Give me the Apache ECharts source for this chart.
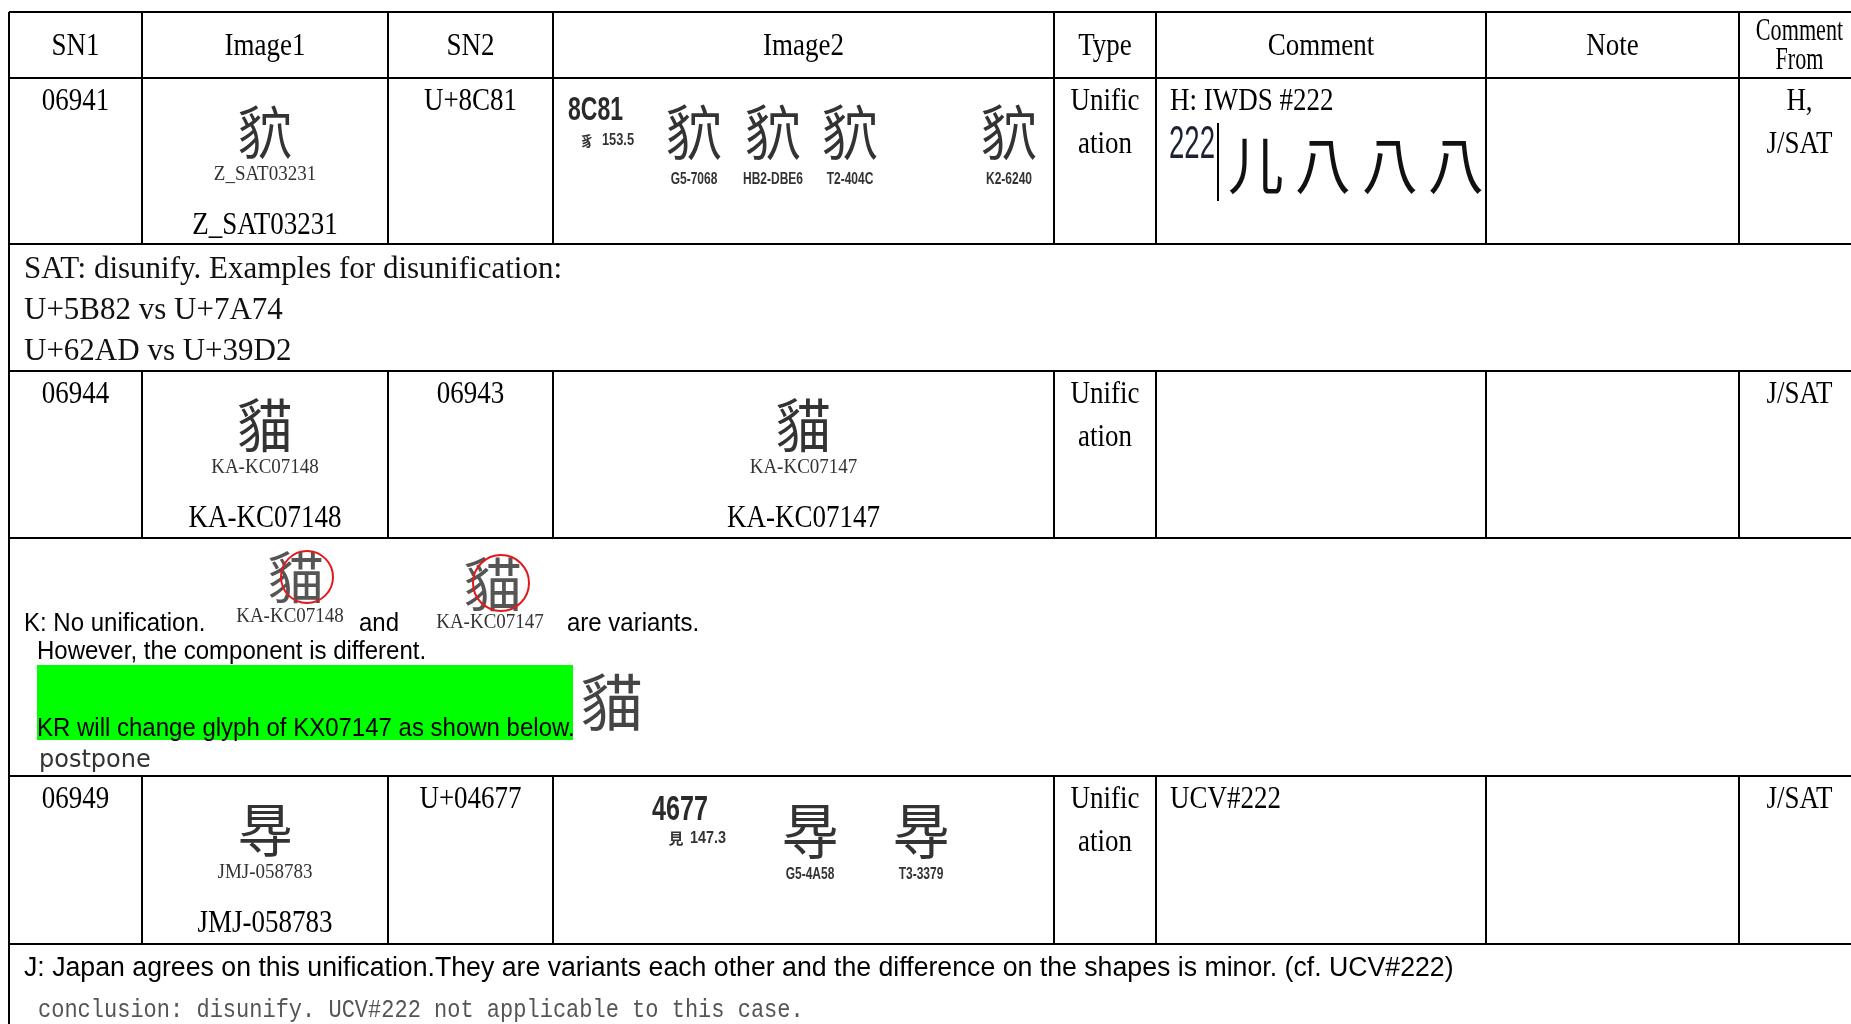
<!DOCTYPE html>
<html>
<head>
<meta charset="utf-8">
<script src="https://cdn.jsdelivr.net/npm/echarts@6/dist/echarts.min.js"></script>
<style>
html,body{margin:0;padding:0;background:#fff;}
#chart{width:1851px;height:1024px;}
</style>
</head>
<body>
<div id="chart"></div>
<script>
// ---------- table content (data) ----------
const headerLabels = ['SN1', 'Image1', 'SN2', 'Image2', 'Type', 'Comment', 'Note'];
const headerLastLines = ['Comment', 'From'];
const sn1Values = ['06941', '06944', '06949'];
const image1Chars = ['\u8C81', '\u8C93', '\u4677'];
const image1Sources = ['Z_SAT03231', 'KA-KC07148', 'JMJ-058783'];
const sn2Values = ['U+8C81', '06943', 'U+04677'];
const typeLines = ['Unific', 'ation'];
const commentValues = ['H: IWDS #222', '', 'UCV#222'];
const commentFromLines = [['H,', 'J/SAT'], ['J/SAT'], ['J/SAT']];
const image2Chars = ['', '\u8C93', ''];
const image2Sources = ['', 'KA-KC07147', ''];
const evidenceCode1 = '8C81';
const evidenceRadical1 = ['豸', '153.5'];
const evidenceSources1 = ['G5-7068', 'HB2-DBE6', 'T2-404C', 'K2-6240'];
const evidenceCode3 = '4677';
const evidenceRadical3 = ['見', '147.3'];
const evidenceSources3 = ['G5-4A58', 'T3-3379'];
const ucvLabel = '222';
const ucvShapes = ['儿', '八', '八', '八'];
const discussion1 = ['SAT: disunify. Examples for disunification:', 'U+5B82 vs U+7A74', 'U+62AD vs U+39D2'];
const discussion2 = ['K: No unification.', 'and', 'are variants.', 'However, the component is different.', 'KR will change glyph of KX07147 as shown below.', 'postpone'];
const discussion2Sources = ['KA-KC07148', 'KA-KC07147'];
const discussion3 = ['J: Japan agrees on this unification.They are variants each other and the difference on the shapes is minor. (cf. UCV#222)', 'conclusion: disunify. UCV#222 not applicable to this case.'];

// ---------- layout ----------
const colEdges = [9, 142, 388, 553, 1054, 1156, 1486, 1739, 1860];
const rowEdges = [12, 78, 244, 371, 538, 776, 944];
const tableRowTops = [78, 371, 776];
const TEXT_DY = 2;
const SERIF = '"Liberation Serif", "Times New Roman", serif';
const SANS = '"Liberation Sans", Arial, sans-serif';
const CJK = '"Noto Sans CJK JP", "Noto Sans CJK SC", sans-serif';
const MONO = '"Liberation Mono", "DejaVu Sans Mono", monospace';
const colCenter = i => (colEdges[i] + colEdges[i + 1]) / 2;

const marks = [];
function T(x, y, text, o) { marks.push(Object.assign({ kind: 'text', x: x, y: y + TEXT_DY, text: text }, o || {})); }
function HL(x1, x2, y, w) { marks.push({ kind: 'hline', x: x1, x2: x2, y: y, w: w || 2 }); }
function VL(x, y1, y2, w) { marks.push({ kind: 'vline', x: x, y: y1, y2: y2, w: w || 2 }); }
function RC(x1, y1, x2, y2, fill) { marks.push({ kind: 'rect', x: x1, y: y1, x2: x2, y2: y2, fill: fill }); }
function CI(x, y, r) { marks.push({ kind: 'circle', x: x, y: y, r: r }); }

const cellText = { size: 27, family: SERIF, sy: 1.15, align: 'center' };

// green highlight (drawn first)
RC(37, 665, 573, 740, '#00ff00');

// grid lines
rowEdges.forEach(y => HL(9, 1860, y));
VL(9, 12, 1024);
[[12, 244], [371, 538], [776, 944]].forEach(b => {
  for (let i = 1; i < colEdges.length - 1; i++) VL(colEdges[i], b[0], b[1]);
});

// header
headerLabels.forEach((h, i) => T(colCenter(i), 45, h, cellText));
headerLastLines.forEach((h, j) => T(colCenter(7), 30 + j * 29, h, Object.assign({}, cellText, { sx: 0.82 })));

// table rows
tableRowTops.forEach((top, r) => {
  T(colCenter(0), top + 22, sn1Values[r], cellText);
  T(colCenter(1), top + 52, image1Chars[r], { size: 58, family: CJK, align: 'center', color: '#333', sx: 0.95 });
  T(colCenter(1), top + 95, image1Sources[r], { size: 19, family: SERIF, align: 'center', color: '#333', sy: 1.1 });
  T(colCenter(1), top + 146, image1Sources[r], cellText);
  T(colCenter(2), top + 22, sn2Values[r], cellText);
  if (image2Chars[r]) {
    T(colCenter(3), top + 52, image2Chars[r], { size: 58, family: CJK, align: 'center', color: '#333', sx: 0.95 });
    T(colCenter(3), top + 95, image2Sources[r], { size: 19, family: SERIF, align: 'center', color: '#333', sy: 1.1 });
    T(colCenter(3), top + 146, image2Sources[r], cellText);
  }
  typeLines.forEach((t, j) => T(colCenter(4), top + 22 + j * 43, t, cellText));
  if (commentValues[r]) T(colEdges[5] + 14, top + 22, commentValues[r], Object.assign({}, cellText, { align: 'left' }));
  commentFromLines[r].forEach((t, j) => T(colCenter(7), top + 22 + j * 43, t, cellText));
});

// evidence row 1
const ev1Top = tableRowTops[0];
T(568, ev1Top + 31, evidenceCode1, { size: 32, family: SANS, color: '#2a2a2a', sx: 0.72, sy: 1.05, weight: 'bold' });
T(587, ev1Top + 61, evidenceRadical1[0], { size: 14, family: CJK, align: 'center', color: '#333', weight: 'bold' });
T(602, ev1Top + 61, evidenceRadical1[1], { size: 16, family: SANS, color: '#333', sx: 0.8, weight: 'bold' });
[694, 773, 850, 1009].forEach((x, i) => {
  T(x, ev1Top + 52, image1Chars[0], { size: 60, family: CJK, align: 'center', color: '#333', sx: 0.95 });
  T(x, ev1Top + 100, evidenceSources1[i], { size: 16, family: SANS, align: 'center', color: '#333', sx: 0.75, weight: 'bold' });
});

// evidence row 3
const ev3Top = tableRowTops[2];
T(652, ev3Top + 32, evidenceCode3, { size: 34, family: SANS, color: '#2a2a2a', sx: 0.74, sy: 1.05, weight: 'bold' });
T(676, ev3Top + 60, evidenceRadical3[0], { size: 15, family: CJK, align: 'center', color: '#333', weight: 'bold' });
T(690, ev3Top + 60, evidenceRadical3[1], { size: 17, family: SANS, color: '#333', sx: 0.85, weight: 'bold' });
[810, 921].forEach((x, i) => {
  T(x, ev3Top + 53, image1Chars[2], { size: 60, family: CJK, align: 'center', color: '#333', sx: 0.95 });
  T(x, ev3Top + 97, evidenceSources3[i], { size: 16, family: SANS, align: 'center', color: '#333', sx: 0.75, weight: 'bold' });
});

// UCV #222 image in comment row 1
T(1169, 143, ucvLabel, { size: 46, family: SANS, color: '#1c2236', sx: 0.6 });
VL(1218, 123, 201, 2);
[1256, 1323, 1390, 1456].forEach((x, i) => T(x, 163, ucvShapes[i], { size: 62, family: CJK, align: 'center', color: '#111', sx: 0.9 }));

// discussion 1
discussion1.forEach((t, j) => T(24, 268 + j * 41, t, { size: 31, family: SERIF, color: '#111' }));

// discussion 2
const sans24 = { size: 24, family: SANS, color: '#000', sy: 1.1 };
T(24, 622, discussion2[0], sans24);
T(296, 575, image1Chars[1], { size: 56, family: CJK, align: 'center', color: '#555' });
CI(307, 577, 26);
T(290, 615, discussion2Sources[0], { size: 19, family: SERIF, align: 'center', color: '#333', sy: 1.1 });
T(359, 622, discussion2[1], sans24);
T(493, 582, image1Chars[1], { size: 58, family: CJK, align: 'center', color: '#555' });
CI(501, 583, 28);
T(490, 621, discussion2Sources[1], { size: 19, family: SERIF, align: 'center', color: '#333', sy: 1.1 });
T(567, 622, discussion2[2], sans24);
T(37, 650, discussion2[3], sans24);
T(37, 727, discussion2[4], sans24);
T(612, 700, image1Chars[1], { size: 62, family: CJK, align: 'center', color: '#444' });
T(39, 759, discussion2[5], { size: 24, family: '"DejaVu Sans", sans-serif', color: '#333' });

// discussion 3
T(24, 966, discussion3[0], { size: 26.7, family: SANS, color: '#000', sy: 1.05 });
T(38, 1008, discussion3[1], { size: 22, family: MONO, color: '#555', sy: 1.2 });

// ---------- chart ----------
function renderItem(params, api) {
  const m = marks[api.value(2)];
  const p = api.coord([m.x, m.y]);
  if (m.kind === 'hline') {
    const q = api.coord([m.x2, m.y]);
    return { type: 'line', shape: { x1: p[0], y1: p[1], x2: q[0], y2: q[1] }, style: { stroke: '#000', lineWidth: m.w } };
  }
  if (m.kind === 'vline') {
    const q = api.coord([m.x, m.y2]);
    return { type: 'line', shape: { x1: p[0], y1: p[1], x2: q[0], y2: q[1] }, style: { stroke: '#000', lineWidth: m.w } };
  }
  if (m.kind === 'rect') {
    const q = api.coord([m.x2, m.y2]);
    return { type: 'rect', shape: { x: p[0], y: p[1], width: q[0] - p[0], height: q[1] - p[1] }, style: { fill: m.fill } };
  }
  if (m.kind === 'circle') {
    return { type: 'circle', shape: { cx: p[0], cy: p[1], r: m.r }, style: { fill: 'rgba(0,0,0,0)', stroke: '#e3191c', lineWidth: 2 } };
  }
  return {
    type: 'text', x: p[0], y: p[1], scaleX: m.sx || 1, scaleY: m.sy || 1,
    style: {
      text: m.text, fill: m.color || '#000', fontSize: m.size, fontFamily: m.family,
      fontWeight: m.weight || 'normal', align: m.align || 'left', verticalAlign: 'middle'
    }
  };
}

const chart = echarts.init(document.getElementById('chart'), null, { renderer: 'canvas' });
chart.setOption({
  backgroundColor: '#ffffff',
  animation: false,
  grid: { left: 0, right: 0, top: 0, bottom: 0 },
  xAxis: { type: 'value', min: 0, max: 1851, show: false },
  yAxis: { type: 'value', min: 0, max: 1024, inverse: true, show: false },
  series: [{
    type: 'custom',
    clip: false,
    silent: true,
    renderItem: renderItem,
    encode: { x: 0, y: 1 },
    data: marks.map((m, i) => [m.x, m.y, i])
  }]
});
</script>
</body>
</html>
